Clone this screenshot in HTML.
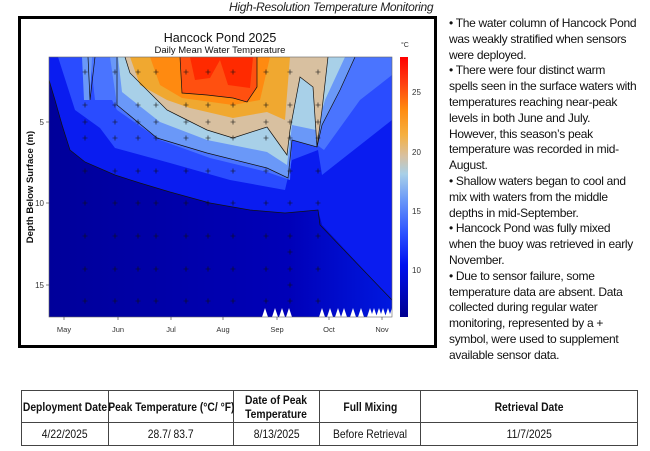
<!DOCTYPE html>
<html><head><meta charset="utf-8"><style>
body{margin:0;width:650px;height:451px;background:#fff;position:relative;font-family:"Liberation Sans",sans-serif;overflow:hidden}
.hdr{position:absolute;left:229px;top:0px;font-size:12px;font-style:italic;color:#222;white-space:nowrap;letter-spacing:-0.3px}
.frame{position:absolute;left:18px;top:16px;width:413px;height:326px;border:3px solid #000}
.txt{position:absolute;left:449px;top:16px;width:200px;font-size:12px;line-height:15.8px;color:#111;letter-spacing:-0.3px;white-space:nowrap}
table{position:absolute;left:21px;top:390px;border-collapse:collapse;font-size:12px;color:#111;table-layout:fixed;width:616px}
td{border:1px solid #444;text-align:center;padding:0;white-space:nowrap}
td span{display:inline-block;transform:scaleX(0.86);margin:0 -30px}
tr.h td{font-weight:bold;height:31px;line-height:14px}
tr.d td{height:22px}
</style></head><body>
<div class="hdr">High-Resolution Temperature Monitoring</div>
<div class="frame"></div>
<svg style="position:absolute;left:0;top:0" width="650" height="451">
<defs>
<linearGradient id="bg" x1="0" x2="1" y1="0" y2="0"><stop offset="0" stop-color="#00009a"/><stop offset="0.7" stop-color="#0000b8"/><stop offset="1" stop-color="#0018e0"/></linearGradient>
<linearGradient id="cb" x1="0" x2="0" y1="0" y2="1">
<stop offset="0" stop-color="#ff0000"/><stop offset="0.1" stop-color="#ff4010"/><stop offset="0.2" stop-color="#ff8a10"/><stop offset="0.3" stop-color="#f5b040"/><stop offset="0.38" stop-color="#d8c0a0"/><stop offset="0.45" stop-color="#a8d0e8"/><stop offset="0.55" stop-color="#6a98f8"/><stop offset="0.68" stop-color="#2a50ff"/><stop offset="0.8" stop-color="#0010f0"/><stop offset="1" stop-color="#000090"/></linearGradient>
<clipPath id="cp"><rect x="49" y="57" width="343" height="260"/></clipPath>
</defs>
<text x="220" y="42" font-size="12.5" text-anchor="middle" fill="#111">Hancock Pond 2025</text>
<text x="220" y="53" font-size="9.5" text-anchor="middle" fill="#111">Daily Mean Water Temperature</text>
<g clip-path="url(#cp)">
<rect x="49" y="57" width="343" height="260" fill="url(#bg)"/>
<polygon fill="#0a1cf0" points="49,57 49,80 55,100 70,150 85,162 115,175 140,183 170,192 210,203 250,210 285,213 318,210 322,225 392,300 392,57"/>
<polygon fill="#2a4cff" points="58,57 75,110 100,128 115,148 170,163 230,180 285,190 292,160 318,150 322,175 392,120 392,57"/>
<polygon fill="#4a74ff" points="90,57 95,100 112,100 117,110 160,140 210,158 267,172 290,180 292,140 317,145 324,150 360,100 392,75 392,57"/>
<polygon fill="#6a98f8" points="110,57 117,105 157,138 207,153 267,168 288,178 292,140 317,147 322,125 340,90 355,57"/>
<polygon fill="#6a98f8" points="82,57 84,100 90,100 92,57"/>
<polygon fill="#a8d0e8" points="118,57 122,92 160,122 207,140 267,152 287,165 292,125 316,130 325,100 345,57"/>
<polygon fill="#d8c0a0" points="125,57 130,73 167,110 187,120 207,130 233,138 267,127 287,155 290,130 300,77 313,87 317,147 322,110 328,57"/>
<polygon fill="#f0a830" points="130,57 140,85 167,100 190,108 233,118 267,112 285,120 290,57"/>
<polygon fill="#ff8a10" points="150,57 160,85 182,98 233,105 260,100 270,57"/>
<polygon fill="#ff5010" points="180,57 182,93 207,95 233,98 247,102 257,87 257,57"/>
<polygon fill="#ff2a00" points="190,57 195,80 210,78 220,60 228,85 250,88 253,57"/>
<g fill="none" stroke="#111" stroke-width="0.7">
<polyline points="49,80 55,100 62,125 70,150 85,162 115,175 140,183 170,192 210,203 250,210 285,213 318,210 320,225 392,300"/>
<polyline points="117,57 117,105 157,138 207,153 267,168 288,178 292,140 317,147 322,125 340,90 355,57"/>
<polyline points="125,57 130,73 167,110 187,120 207,130 233,138 267,127 287,155 290,130 300,77 313,87 317,147 322,110 328,57"/>
<polyline points="180,57 182,93 207,95 233,98 247,102 257,87 257,57"/>
<polyline points="88,57 90,100 95,57"/>
</g>
<g stroke="#111" stroke-width="0.6" id="pl">
</g>
<g fill="#fff">
<polygon points="262,317 265,308 268,317"/><polygon points="272,317 275,308 278,317"/><polygon points="279,317 282,308 285,317"/><polygon points="286,317 289,308 292,317"/>
<polygon points="319,317 322,308 325,317"/><polygon points="327,317 330,308 333,317"/><polygon points="335,317 338,308 341,317"/><polygon points="341,317 344,308 347,317"/><polygon points="350,317 353,308 356,317"/><polygon points="358,317 361,308 364,317"/><polygon points="367,317 370,308 373,317"/><polygon points="371,317 374,308 377,317"/><polygon points="376,317 379,308 382,317"/><polygon points="380,317 383,308 386,317"/><polygon points="385,317 388,308 391,317"/><polygon points="389,317 392,308 395,317"/>
</g>
</g>
<rect x="49" y="57" width="343" height="260" fill="none" stroke="#666" stroke-width="0.6"/>
<g stroke="#333" stroke-width="0.6">
<line x1="46" y1="122" x2="49" y2="122"/><line x1="46" y1="203" x2="49" y2="203"/><line x1="46" y1="285" x2="49" y2="285"/>
<line x1="64" y1="317" x2="64" y2="320"/><line x1="118" y1="317" x2="118" y2="320"/><line x1="171" y1="317" x2="171" y2="320"/><line x1="223" y1="317" x2="223" y2="320"/><line x1="277" y1="317" x2="277" y2="320"/><line x1="329" y1="317" x2="329" y2="320"/><line x1="382" y1="317" x2="382" y2="320"/>
</g>
<g font-size="8" fill="#333" text-anchor="end"><text x="44" y="125">5</text><text x="44" y="206">10</text><text x="44" y="288">15</text></g>
<g font-size="7.5" fill="#333" text-anchor="middle"><text x="64" y="332">May</text><text x="118" y="332">Jun</text><text x="171" y="332">Jul</text><text x="223" y="332">Aug</text><text x="277" y="332">Sep</text><text x="329" y="332">Oct</text><text x="382" y="332">Nov</text></g>
<text transform="translate(33,187) rotate(-90)" font-size="9.5" font-weight="bold" text-anchor="middle" fill="#111">Depth Below Surface (m)</text>
<rect x="400" y="57" width="8" height="260" fill="url(#cb)"/>
<text x="401" y="47" font-size="7" fill="#333">°C</text>
<g font-size="8" fill="#333"><text x="412" y="95">25</text><text x="412" y="155">20</text><text x="412" y="214">15</text><text x="412" y="273">10</text></g>
</svg>
<script>
var xs=[85,115,138,156,186,208,233,266,290,318],ys=[72,105,122,138,171,203,236,269,301],s='';
xs.forEach(function(x){ys.forEach(function(y){s+='<path d="M'+(x-2.5)+' '+y+'h5M'+x+' '+(y-2.5)+'v5"/>';});});
s+='<path d="M287.5 252h5M290 249.5v5M287.5 285h5M290 282.5v5"/>';
document.getElementById('pl').innerHTML=s;
</script>
<div class="txt">• The water column of Hancock Pond<br>was weakly stratified when sensors<br>were deployed.<br>• There were four distinct warm<br>spells seen in the surface waters with<br>temperatures reaching near-peak<br>levels in both June and July.<br>However, this season’s peak<br>temperature was recorded in mid-<br>August.<br>• Shallow waters began to cool and<br>mix with waters from the middle<br>depths in mid-September.<br>• Hancock Pond was fully mixed<br>when the buoy was retrieved in early<br>November.<br>• Due to sensor failure, some<br>temperature data are absent. Data<br>collected during regular water<br>monitoring, represented by a +<br>symbol, were used to supplement<br>available sensor data.</div>
<table>
<colgroup><col style="width:87px"><col style="width:125px"><col style="width:86px"><col style="width:101px"><col style="width:217px"></colgroup>
<tr class="h"><td><span>Deployment Date</span></td><td><span>Peak Temperature (°C/ °F)</span></td><td><span>Date of Peak<br>Temperature</span></td><td><span>Full Mixing</span></td><td><span>Retrieval Date</span></td></tr>
<tr class="d"><td><span>4/22/2025</span></td><td><span>28.7/ 83.7</span></td><td><span>8/13/2025</span></td><td><span>Before Retrieval</span></td><td><span>11/7/2025</span></td></tr>
</table>
</body></html>
